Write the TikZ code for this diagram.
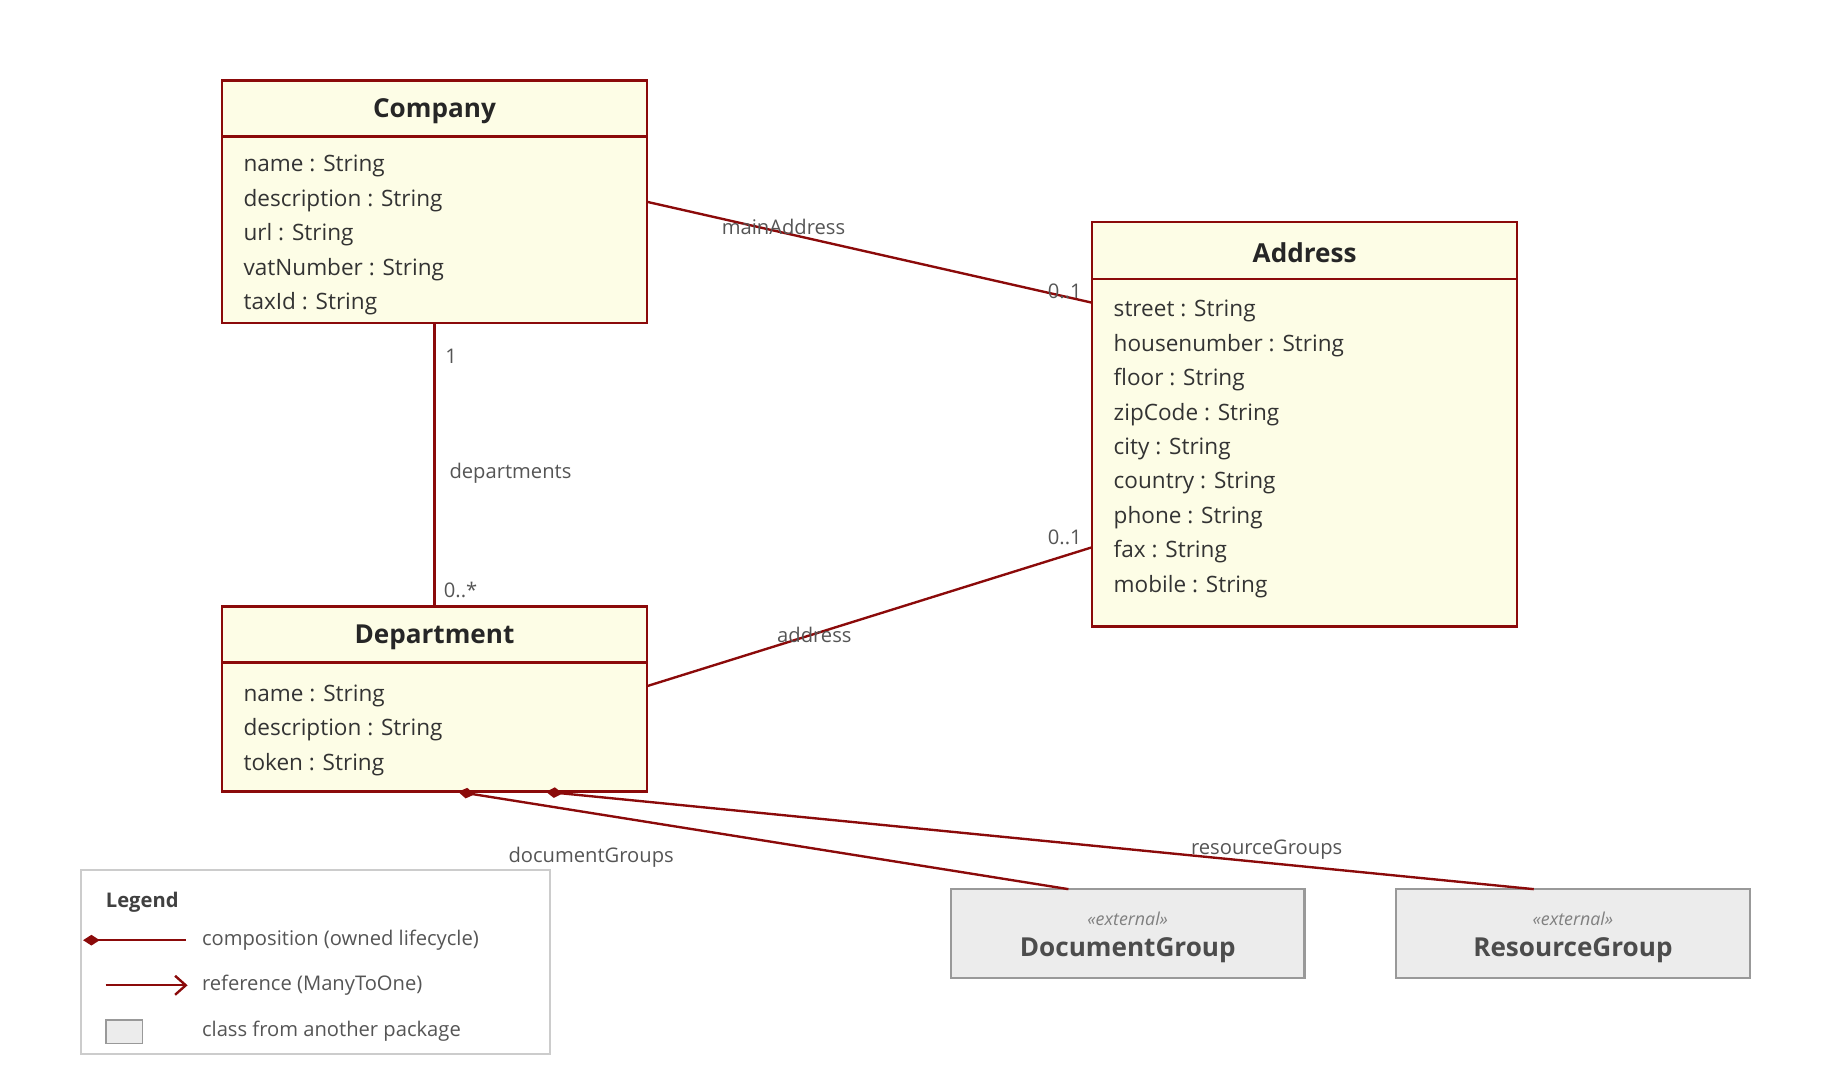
\documentclass[tikz,border=0pt]{standalone}
\usepackage{fontspec}
\setmainfont{Open Sans}
\usetikzlibrary{arrows.meta}
\definecolor{dr}{HTML}{8B0A0A}
\definecolor{cf}{HTML}{FDFDE6}
\definecolor{tx}{HTML}{333333}
\definecolor{lb}{HTML}{555555}
\begin{document}
\begin{tikzpicture}[x=1pt,y=-1pt,
  cls/.style={draw=dr,fill=cf,line width=2.2pt},
  ext/.style={draw=gray!80,fill=gray!15,line width=2pt},
  att/.style={anchor=west,font=\fontsize{19}{19}\selectfont,text=tx,inner sep=0},
  ttl/.style={font=\fontsize{22}{22}\selectfont\bfseries,text=black!85,inner sep=0},
  lbl/.style={font=\fontsize{17}{17}\selectfont,text=lb,inner sep=0},
  con/.style={draw=dr,line width=2pt},
  comp/.style={con,{Diamond[length=14pt,width=9pt]}-}]
\useasboundingbox (0,0) rectangle (1550,910);
% Company
\draw[cls] (187,68) rectangle (545,272); \draw[dr,line width=2.2pt] (187,115)--(545,115);
\node[ttl] (cT) at (366,94) {Company};
\foreach \t [count=\i] in {name : String,description : String,url : String,vatNumber : String,taxId : String}
  \node[att] (c\i) at (205,140+29*\i-29) {\t};
\coordinate (cR) at (545,170); \coordinate (cB) at (366,272);
% Address
\draw[cls] (920,187) rectangle (1278,528); \draw[dr,line width=2.2pt] (920,235)--(1278,235);
\node[ttl] (aT) at (1099,213) {Address};
\foreach \t [count=\i] in {street : String,housenumber : String,floor : String,zipCode : String,city : String,country : String,phone : String,fax : String,mobile : String}
  \node[att] (a\i) at (938,262+29*\i-29) {\t};
\coordinate (aL1) at (920,255); \coordinate (aL2) at (920,461);
% Department
\draw[cls] (187,511) rectangle (545,667); \draw[dr,line width=2.2pt] (187,558)--(545,558);
\node[ttl] (dT) at (366,537) {Department};
\foreach \t [count=\i] in {name : String,description : String,token : String}
  \node[att] (d\i) at (205,586+29*\i-29) {\t};
\coordinate (dT0) at (366,511); \coordinate (dR) at (545,578);
\coordinate (dB1) at (386,667); \coordinate (dB2) at (460,667);
% externals
\draw[ext] (801,749) rectangle (1099,824);
\node[font=\fontsize{15}{15}\selectfont\itshape,text=gray,inner sep=0] (eD) at (950,774) {«external»};
\node[ttl,text=black!70] (nD) at (950,800) {DocumentGroup};
\draw[ext] (1176,749) rectangle (1474,824);
\node[font=\fontsize{15}{15}\selectfont\itshape,text=gray,inner sep=0] (eR) at (1325,774) {«external»};
\node[ttl,text=black!70] (nR) at (1325,800) {ResourceGroup};
\coordinate (gD) at (900,749); \coordinate (gR) at (1292,749);
% connectors
\draw[con] (cR) -- (aL1);
\draw[con] (cB) -- (dT0);
\draw[con] (dR) -- (aL2);
\draw[comp] (dB1) -- (gD);
\draw[comp] (dB2) -- (gR);
\node[lbl] at (660,191) {mainAddress};
\node[lbl] at (897,245) {0..1};
\node[lbl] at (380,300) {1};
\node[lbl] at (430,399) {departments};
\node[lbl] at (388,497) {0..*};
\node[lbl] at (686,535) {address};
\node[lbl] at (897,453) {0..1};
\node[lbl] at (498,722) {documentGroups};
\node[lbl] at (1067,716) {resourceGroups};
% legend
\draw[draw=gray!40,line width=1.5pt,fill=white] (68,733) rectangle (463,888);
\node[font=\fontsize{17}{17}\selectfont\bfseries,text=black!75,anchor=west,inner sep=0] (lg) at (89,760) {Legend};
\coordinate (l1a) at (70,792); \coordinate (l1b) at (157,792);
\draw[comp] (l1a) -- (l1b);
\coordinate (l2a) at (89,830); \coordinate (l2b) at (158,830);
\draw[con,-{Straight Barb[length=9pt,width=16pt]}] (l2a) -- (l2b);
\draw[ext,line width=1.5pt] (89,859) rectangle (120,879);
\node[lbl,anchor=west] at (170,792) {composition (owned lifecycle)};
\node[lbl,anchor=west] at (170,830) {reference (ManyToOne)};
\node[lbl,anchor=west] at (170,869) {class from another package};
\end{tikzpicture}
\end{document}
